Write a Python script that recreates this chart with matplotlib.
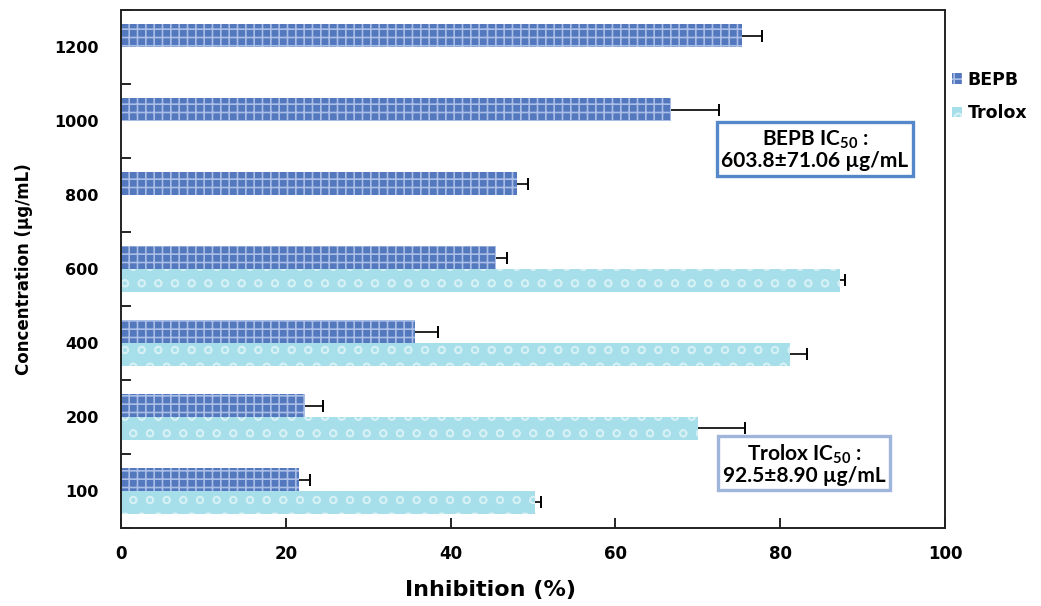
import matplotlib.pyplot as plt
import numpy as np

plt.rcParams['font.family'] = ['DejaVu Sans']
plt.rcParams['font.weight'] = 'bold'
plt.rcParams['mathtext.fontset'] = 'custom'
plt.rcParams['mathtext.rm'] = 'Lato:bold'
plt.rcParams['hatch.linewidth'] = 1.2

# data
conc = ['100', '200', '400', '600', '800', '1000', '1200']
bepb = [21.6, 22.3, 35.7, 45.5, 48.1, 66.7, 75.4]
bepb_err = [1.4, 2.2, 2.8, 1.3, 1.3, 5.9, 2.4]
trolox = [50.2, 70.0, 81.2, 87.3, 0, 0, 0]
trolox_err = [0.8, 5.7, 2.1, 0.6, 0, 0, 0]
xticks = [0, 20, 40, 60, 80, 100]

n = len(conc)
y = np.arange(n)
h = 0.31

fig = plt.figure(figsize=(10.41, 6.06), dpi=100)
ax = fig.add_axes([0.1162, 0.1287, 0.7916, 0.8548])


def one_sided_err(vals, errs, ypos):
    # error bar only on the positive side, cap at the outer end
    vals = np.asarray(vals)
    errs = np.asarray(errs)
    ax.hlines(ypos, vals, vals + errs, color='black', lw=1.2, zorder=3)
    ax.plot(vals + errs, ypos, '|', color='black', ms=8, mew=1.4, zorder=3)


# BEPB bars (blue textured) above centre
ax.barh(y + h / 2, bepb, height=h, color='#5478bd', edgecolor='#a9bde6',
        hatch='++', linewidth=0, label='BEPB', zorder=2)
one_sided_err(bepb, bepb_err, y + h / 2)

# Trolox bars (light cyan droplets) below centre
tn = 4
ax.barh(y[:tn] - h / 2, trolox[:tn], height=h, color='#a6dfe9',
        edgecolor='#d4f0f5', hatch='o', linewidth=0, label='Trolox', zorder=2)
one_sided_err(trolox[:tn], trolox_err[:tn], y[:tn] - h / 2)

ax.set_xlim(0, 100)
ax.set_ylim(-0.5, n - 0.5)
ax.set_xticks(xticks)
ax.set_xticklabels([str(v) for v in xticks], fontsize=12, fontweight='bold')
ax.tick_params(axis='x', direction='in', length=7, width=1.2, pad=12)

# category labels at centres, tick marks at boundaries
ax.set_yticks(np.arange(-0.5, n, 1.0))
ax.set_yticklabels([])
ax.set_yticks(y, minor=True)
ax.set_yticklabels(conc, minor=True, fontsize=11.5, fontweight='bold')
ax.tick_params(axis='y', which='major', direction='in', length=7, width=1.2)
ax.tick_params(axis='y', which='minor', length=0, pad=16)

for s in ax.spines.values():
    s.set_linewidth(1.4)
    s.set_color('#222222')

ax.set_xlabel('Inhibition (%)', fontsize=16, fontweight='bold')
ax.xaxis.set_label_coords(0.449, -0.1)
ax.set_ylabel('Concentration (µg/mL)', fontsize=12, fontweight='bold')
ax.yaxis.set_label_coords(-0.107, 0.5)

leg = ax.legend(loc='upper left', bbox_to_anchor=(0.996, 0.903), frameon=False,
                fontsize=12.5, handlelength=0.55, handleheight=0.55,
                handletextpad=0.35, labelspacing=0.9, borderaxespad=0.2)

ax.text(0.842, 0.73, 'BEPB IC$_{50}$ :\n603.8±71.06 µg/mL', transform=ax.transAxes,
        ha='center', va='center', fontsize=15, fontweight='bold',
        family=['Lato', 'DejaVu Sans'], linespacing=1.0,
        bbox=dict(boxstyle='square,pad=0.22', fc='white', ec='#5588c8', lw=2.4))
ax.text(0.829, 0.124, 'Trolox IC$_{50}$ :\n92.5±8.90 µg/mL', transform=ax.transAxes,
        ha='center', va='center', fontsize=15, fontweight='bold',
        family=['Lato', 'DejaVu Sans'], linespacing=1.0,
        bbox=dict(boxstyle='square,pad=0.22', fc='white', ec='#9fb6da', lw=2.4))

fig.savefig('out.png', dpi=100)
